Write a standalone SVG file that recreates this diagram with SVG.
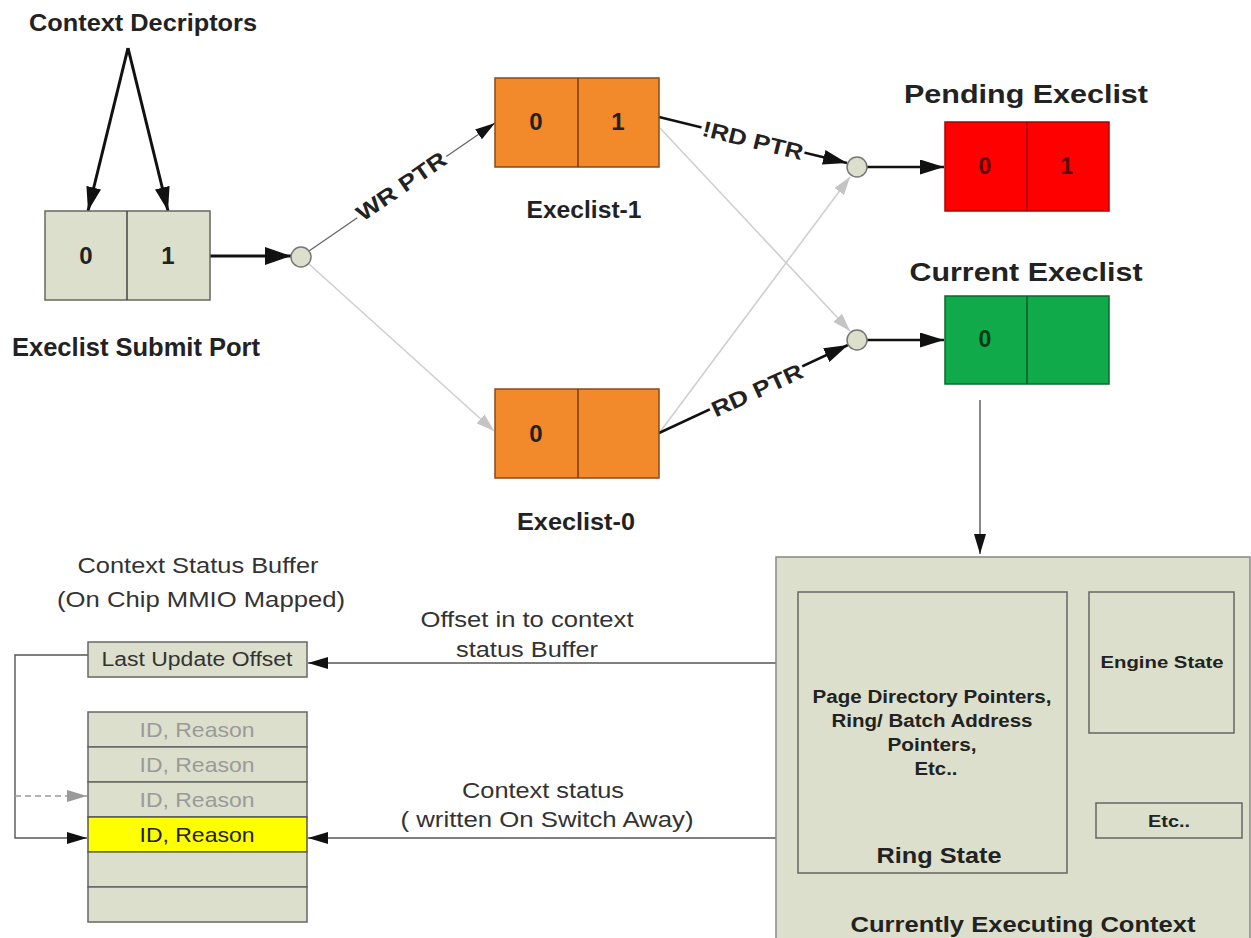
<svg xmlns="http://www.w3.org/2000/svg" width="1251" height="938" viewBox="0 0 1251 938">
<defs>
<style>
.b{font-family:"Liberation Sans",Arial,sans-serif;font-weight:bold;fill:#222;text-anchor:middle}
.n{font-family:"Liberation Sans",Arial,sans-serif;fill:#333;text-anchor:middle}
.khaki{fill:#dcdfcc;stroke:#666;stroke-width:1.5}
.orange{fill:#f28a2c;stroke:#8a4a18;stroke-width:1.5}
.red{fill:#ff0000;stroke:#b00000;stroke-width:1.5}
.green{fill:#10aa4a;stroke:#0a6a2c;stroke-width:1.5}
.inner{fill:none;stroke:#666;stroke-width:1.5}
.node{fill:#dcdfcc;stroke:#777;stroke-width:1.5}
.thick{stroke:#111;stroke-width:3;fill:none}
.med{stroke:#111;stroke-width:2.5;fill:none}
.thin{stroke:#555;stroke-width:1.4;fill:none}
.grey{stroke:#cfcfcf;stroke-width:1.6;fill:none}
.bg{fill:#fff}
</style>
<marker id="big" markerUnits="userSpaceOnUse" markerWidth="26" markerHeight="18" refX="26" refY="9" orient="auto"><path d="M0,0 L26,9 L0,18 z" fill="#111"/></marker>
<marker id="mid" markerUnits="userSpaceOnUse" markerWidth="24" markerHeight="15" refX="24" refY="7.5" orient="auto"><path d="M0,0 L24,7.5 L0,15 z" fill="#111"/></marker>
<marker id="sm" markerUnits="userSpaceOnUse" markerWidth="20" markerHeight="12" refX="20" refY="6" orient="auto"><path d="M0,0 L20,6 L0,12 z" fill="#111"/></marker>
<marker id="gm" markerUnits="userSpaceOnUse" markerWidth="18" markerHeight="12" refX="18" refY="6" orient="auto"><path d="M0,0 L18,6 L0,12 z" fill="#c4c4c4"/></marker>
<marker id="gm2" markerUnits="userSpaceOnUse" markerWidth="20" markerHeight="12" refX="20" refY="6" orient="auto"><path d="M0,0 L20,6 L0,12 z" fill="#999"/></marker>
</defs>
<rect width="1251" height="938" fill="#fff"/>

<g id="connectors">
<line class="thick" x1="128" y1="48" x2="88" y2="211" marker-end="url(#mid)"/>
<line class="thick" x1="128" y1="48" x2="168" y2="211" marker-end="url(#mid)"/>
<line class="thick" x1="210" y1="256" x2="291" y2="256" marker-end="url(#big)"/>
<line class="grey" x1="309" y1="264" x2="494" y2="431" marker-end="url(#gm)"/>
<line class="grey" x1="660" y1="128" x2="850" y2="331" marker-end="url(#gm)"/>
<line class="grey" x1="660" y1="432" x2="850" y2="177" marker-end="url(#gm)"/>
<line x1="309" y1="251" x2="495" y2="123" stroke="#666" stroke-width="1.3" marker-end="url(#sm)"/>
<line class="med" x1="659" y1="117" x2="847" y2="163" marker-end="url(#mid)"/>
<line class="med" x1="659" y1="433" x2="848" y2="345" marker-end="url(#mid)"/>
<line class="med" x1="867" y1="167" x2="944" y2="167" marker-end="url(#mid)"/>
<line class="med" x1="867" y1="340" x2="944" y2="340" marker-end="url(#mid)"/>
<line class="thin" x1="980" y1="400" x2="980" y2="554" marker-end="url(#sm)"/>
<line class="thin" x1="776" y1="663" x2="308" y2="663" marker-end="url(#sm)"/>
<line class="thin" x1="776" y1="838" x2="308" y2="838" marker-end="url(#sm)"/>
<polyline class="thin" points="88,655 15,655 15,838 87,838" marker-end="url(#sm)"/>
<line x1="15" y1="796" x2="87" y2="796" stroke="#999" stroke-width="1.3" stroke-dasharray="6,4" marker-end="url(#gm2)"/>
<g transform="translate(401,186) rotate(-34.6)"><rect class="bg" x="-54" y="-10" width="108" height="20"/><text class="b" x="0" y="8" font-size="22" textLength="104" lengthAdjust="spacingAndGlyphs">WR PTR</text></g>
<g transform="translate(753,140) rotate(13.8)"><rect class="bg" x="-53" y="-10" width="106" height="20"/><text class="b" x="0" y="8" font-size="22" textLength="103" lengthAdjust="spacingAndGlyphs">!RD PTR</text></g>
<g transform="translate(757,390) rotate(-24.5)"><rect class="bg" x="-51" y="-10" width="102" height="20"/><text class="b" x="0" y="8" font-size="22" textLength="98" lengthAdjust="spacingAndGlyphs">RD PTR</text></g>
<text class="n" x="527" y="627" font-size="22" textLength="213" lengthAdjust="spacingAndGlyphs">Offset in to context</text>
<text class="n" x="527" y="657" font-size="22" textLength="142" lengthAdjust="spacingAndGlyphs">status Buffer</text>
<text class="n" x="543" y="798" font-size="22" textLength="162" lengthAdjust="spacingAndGlyphs">Context status</text>
<text class="n" x="547" y="827" font-size="22" textLength="293" lengthAdjust="spacingAndGlyphs">( written On Switch Away)</text>
</g>

<g id="context-descriptors">
<text class="b" x="143" y="31" font-size="23" textLength="228" lengthAdjust="spacingAndGlyphs">Context Decriptors</text>
</g>

<g id="submit-port">
<rect class="khaki" x="45" y="211" width="165" height="89"/>
<line x1="127" y1="211" x2="127" y2="300" stroke="#444" stroke-width="1.5"/>
<text class="b" x="86" y="264" font-size="24">0</text>
<text class="b" x="168" y="264" font-size="24">1</text>
<text class="b" x="136" y="356" font-size="25" textLength="248" lengthAdjust="spacingAndGlyphs">Execlist Submit Port</text>
</g>

<g id="node-submit"><circle class="node" cx="301" cy="257" r="10"/></g>
<g id="node-pending"><circle class="node" cx="857" cy="167" r="10"/></g>
<g id="node-current"><circle class="node" cx="857" cy="340" r="10"/></g>

<g id="execlist-1">
<rect class="orange" x="495" y="78" width="164" height="89"/>
<line x1="578" y1="78" x2="578" y2="167" stroke="#7a3a10" stroke-width="1.5"/>
<text class="b" x="536" y="130" font-size="24">0</text>
<text class="b" x="618" y="130" font-size="24">1</text>
<text class="b" x="584" y="218" font-size="23" textLength="115" lengthAdjust="spacingAndGlyphs">Execlist-1</text>
</g>

<g id="execlist-0">
<rect class="orange" x="495" y="389" width="164" height="89"/>
<line x1="578" y1="389" x2="578" y2="478" stroke="#7a3a10" stroke-width="1.5"/>
<text class="b" x="536" y="442" font-size="24">0</text>
<text class="b" x="576" y="530" font-size="23" textLength="118" lengthAdjust="spacingAndGlyphs">Execlist-0</text>
</g>

<g id="pending-execlist">
<text class="b" x="1026" y="103" font-size="26" textLength="244" lengthAdjust="spacingAndGlyphs">Pending Execlist</text>
<rect class="red" x="945" y="122" width="164" height="89"/>
<line x1="1027" y1="122" x2="1027" y2="211" stroke="#a00000" stroke-width="1.5"/>
<text class="b" x="985" y="174" font-size="23" style="fill:#5a0000">0</text>
<text class="b" x="1067" y="174" font-size="23" style="fill:#5a0000">1</text>
</g>

<g id="current-execlist">
<text class="b" x="1026" y="281" font-size="26" textLength="233" lengthAdjust="spacingAndGlyphs">Current Execlist</text>
<rect class="green" x="945" y="296" width="164" height="88"/>
<line x1="1027" y1="296" x2="1027" y2="384" stroke="#0a5a24" stroke-width="1.5"/>
<text class="b" x="985" y="347" font-size="23" style="fill:#053a16">0</text>
</g>

<g id="context-status-buffer">
<text class="n" x="198" y="573" font-size="22" textLength="241" lengthAdjust="spacingAndGlyphs">Context Status Buffer</text>
<text class="n" x="201" y="607" font-size="22" textLength="288" lengthAdjust="spacingAndGlyphs">(On Chip MMIO Mapped)</text>
</g>

<g id="last-update-offset">
<rect class="khaki" x="88" y="642" width="219" height="35"/>
<text class="n" x="197" y="666" font-size="20" textLength="191" lengthAdjust="spacingAndGlyphs">Last Update Offset</text>
</g>

<g id="status-rows">
<rect class="khaki" x="88" y="712" width="219" height="35"/>
<rect class="khaki" x="88" y="747" width="219" height="35"/>
<rect class="khaki" x="88" y="782" width="219" height="35"/>
<rect x="88" y="817" width="219" height="35" fill="#ffff00" stroke="#555" stroke-width="1.5"/>
<rect class="khaki" x="88" y="852" width="219" height="35"/>
<rect class="khaki" x="88" y="887" width="219" height="35"/>
<text class="n" x="197" y="737" font-size="21" style="fill:#9a9a9a" textLength="115" lengthAdjust="spacingAndGlyphs">ID, Reason</text>
<text class="n" x="197" y="772" font-size="21" style="fill:#9a9a9a" textLength="115" lengthAdjust="spacingAndGlyphs">ID, Reason</text>
<text class="n" x="197" y="807" font-size="21" style="fill:#9a9a9a" textLength="115" lengthAdjust="spacingAndGlyphs">ID, Reason</text>
<text class="n" x="197" y="842" font-size="21" style="fill:#222" textLength="115" lengthAdjust="spacingAndGlyphs">ID, Reason</text>
</g>

<g id="currently-executing-context">
<rect class="khaki" x="776" y="557" width="474" height="400" style="stroke:#888"/>
<text class="b" x="1023" y="932" font-size="22" textLength="345" lengthAdjust="spacingAndGlyphs">Currently Executing Context</text>
</g>

<g id="ring-state">
<rect class="inner" x="798" y="592" width="269" height="281"/>
<text class="b" x="932" y="703" font-size="18" textLength="239" lengthAdjust="spacingAndGlyphs">Page Directory Pointers,</text>
<text class="b" x="932" y="727" font-size="18" textLength="201" lengthAdjust="spacingAndGlyphs">Ring/ Batch Address</text>
<text class="b" x="932" y="751" font-size="18" textLength="89" lengthAdjust="spacingAndGlyphs">Pointers,</text>
<text class="b" x="936" y="775" font-size="18" textLength="43" lengthAdjust="spacingAndGlyphs">Etc..</text>
<text class="b" x="939" y="863" font-size="22" textLength="125" lengthAdjust="spacingAndGlyphs">Ring State</text>
</g>

<g id="engine-state">
<rect class="inner" x="1089" y="592" width="145" height="141"/>
<text class="b" x="1162" y="668" font-size="17" textLength="123" lengthAdjust="spacingAndGlyphs">Engine State</text>
</g>

<g id="etc-box">
<rect class="inner" x="1096" y="803" width="146" height="35"/>
<text class="b" x="1169" y="827" font-size="17" textLength="42" lengthAdjust="spacingAndGlyphs">Etc..</text>
</g>
</svg>
